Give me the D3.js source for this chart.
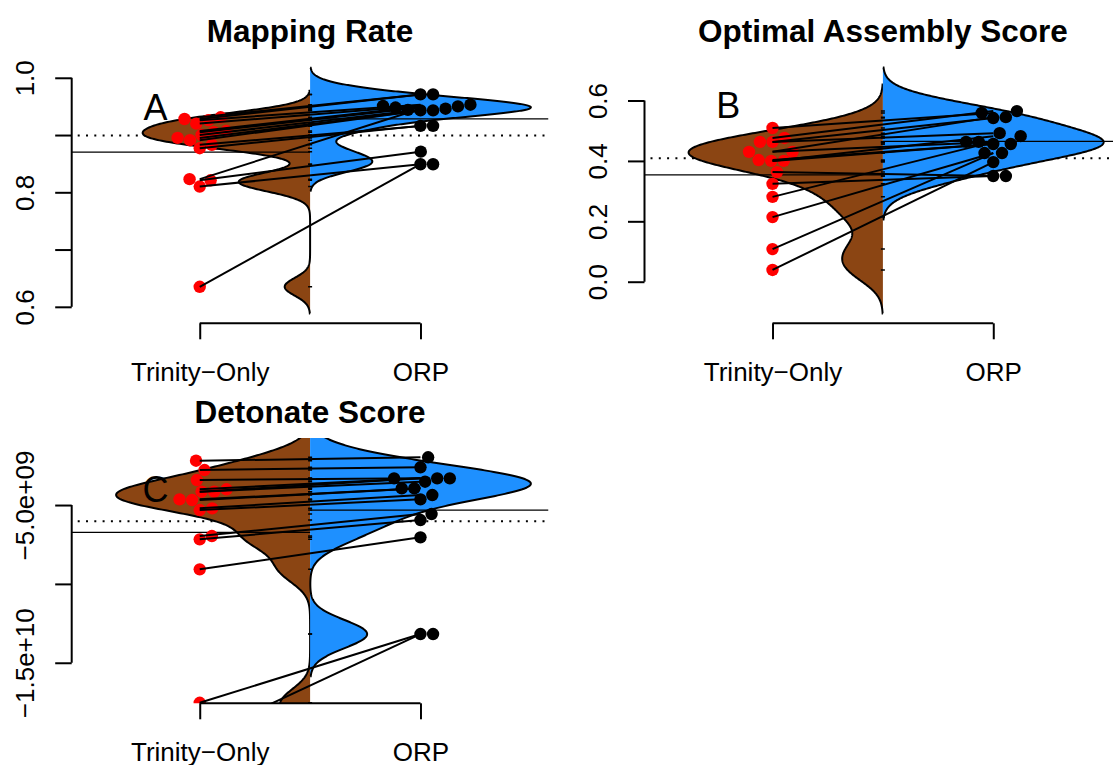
<!DOCTYPE html>
<html>
<head>
<meta charset="utf-8">
<title>Beanplots</title>
<script src="https://d3js.org/d3.v7.min.js"></script>
<style>
body { margin: 0; background: #fff; }
text { font-family: "Liberation Sans", Arial, Helvetica, sans-serif; }
</style>
</head>
<body>
<script>

var groups = ["Trinity\u2212Only", "ORP"];
var titles = ["Mapping Rate", "Optimal Assembly Score", "Detonate Score"];
var letters = ["A", "B", "C"];

// one sample per index: trinity[i] is joined to orp[i]
var trinityA = [0.931, 0.928, 0.926, 0.920, 0.907, 0.905, 0.900, 0.895, 0.891, 0.883, 0.877, 0.823, 0.821, 0.810, 0.635];
var orpA     = [0.971, 0.971, 0.953, 0.951, 0.950, 0.948, 0.944, 0.943, 0.943, 0.916, 0.916, 0.946, 0.871, 0.849, 0.849];

var trinityB = [0.509, 0.476, 0.463, 0.463, 0.430, 0.430, 0.403, 0.400, 0.400, 0.363, 0.324, 0.281, 0.214, 0.108, 0.039];
var orpB     = [0.559, 0.565, 0.542, 0.492, 0.545, 0.463, 0.456, 0.482, 0.456, 0.350, 0.350, 0.463, 0.426, 0.426, 0.396];

var trinityC = [-2.191e9, -2.781e9, -3.415e9, -4.004e9, -4.157e9, -4.157e9, -4.639e9, -4.683e9,
                -5.209e9, -5.317e9, -6.966e9, -7.175e9, -9.077e9, -17.537e9, -19.71e9];
var orpC     = [-1.975e9, -2.609e9, -3.307e9, -3.307e9, -3.307e9, -3.523e9, -3.941e9, -3.941e9,
                -4.366e9, -4.639e9, -5.571e9, -5.951e9, -7.048e9, -13.18e9, -13.18e9];

var ticksA = [0.6, 0.7, 0.8, 0.9, 1.0];
var tickLabelsA = ["0.6", "", "0.8", "", "1.0"];
var ticksB = [0, 0.2, 0.4, 0.6];
var tickLabelsB = ["0.0", "0.2", "0.4", "0.6"];
var ticksC = [-1.5e10, -1e10, -5e9];
var tickLabelsC = ["\u22121.5e+10", "", "\u22125.0e+09"];

var ylimA = [0.5712, 1.0363];
var ylimB = [-0.1377, 0.7441];
var ylimC = [-17.57e9, -0.75e9];

var bandwidths = [0.0155, 0.048, 0.89e9];
var letterY = [0.9488, 0.5848, -3.99e9];

var colors = ["#8B4513", "#1E90FF"];
var ptColors = ["#FF0000", "#000000"];
var plotW = 476.8;

var svg = d3.select("body").append("svg")
	.attr("width", 1113)
	.attr("height", 765)
	.style("background", "#fff");

var panels = [
	{trinity: trinityA, orp: orpA, ticks: ticksA, labels: tickLabelsA, ylim: ylimA, left: 71.7, top: 57, bottom: 323.3},
	{trinity: trinityB, orp: orpB, ticks: ticksB, labels: tickLabelsB, ylim: ylimB, left: 644.5, top: 57, bottom: 323.3},
	{trinity: trinityC, orp: orpC, ticks: ticksC, labels: tickLabelsC, ylim: ylimC, left: 71.7, top: 438, bottom: 703.3}
];

// gaussian density like R's density(), cut = 3
function kde(values, bw) {
	var lo = d3.min(values) - 3 * bw, hi = d3.max(values) + 3 * bw;
	return d3.range(512).map(function(k) {
		var v = lo + (hi - lo) * k / 511;
		var s = d3.sum(values, function(x) { var u = (v - x) / bw; return Math.exp(-0.5 * u * u); });
		return [v, s / (values.length * bw * Math.sqrt(2 * Math.PI))];
	});
}

// beeswarm "swarm" layout, ascending priority; ys in pixels, returns x offsets
function swarm(ys, size) {
	var order = d3.range(ys.length).sort(function(a, b) { return ys[b] - ys[a]; });
	var xs = [], placed = [];
	order.forEach(function(i) {
		var plus = [], minus = [];
		placed.forEach(function(j) {
			var dy = Math.abs(ys[i] - ys[j]);
			if (dy < size) {
				var dx = Math.sqrt(size * size - dy * dy);
				plus.push(xs[j] + dx);
				minus.push(xs[j] - dx);
			}
		});
		var cand = [0].concat(plus, minus);
		var best = null;
		cand.forEach(function(c) {
			var free = placed.every(function(j) {
				var dx = c - xs[j], dy = ys[i] - ys[j];
				return dx * dx + dy * dy >= size * size - 0.01;
			});
			if (free && (best === null || Math.abs(c) < Math.abs(best) - 1e-9)) best = c;
		});
		xs[i] = best;
		placed.push(i);
	});
	return xs;
}

panels.forEach(function(p, k) {
	var x = d3.scaleLinear().domain([0.42, 2.58]).range([p.left, p.left + plotW]);
	var y = d3.scaleLinear().domain(p.ylim).range([p.bottom, p.top]);
	var g = svg.append("g");

	svg.append("clipPath").attr("id", "clip" + k)
		.append("rect")
		.attr("x", p.left).attr("y", p.top)
		.attr("width", plotW).attr("height", p.bottom - p.top);
	var plot = g.append("g").attr("clip-path", "url(#clip" + k + ")");

	var sets = [p.trinity, p.orp];
	var overall = d3.mean(p.trinity.concat(p.orp));

	// overall average, dotted
	plot.append("line")
		.attr("x1", p.left + 6).attr("x2", p.left + plotW)
		.attr("y1", y(overall)).attr("y2", y(overall))
		.attr("stroke", "#000").attr("stroke-width", 2)
		.attr("stroke-dasharray", "2,6.3");

	// beans
	var dens = sets.map(function(s) { return kde(s, bandwidths[k]); });
	var maxD = d3.max(dens, function(d) { return d3.max(d, function(e) { return e[1]; }); });
	dens.forEach(function(d, side) {
		var sign = side === 0 ? -1 : 1;
		var pts = d.map(function(e) { return [x(1.5 + sign * e[1] / maxD), y(e[0])]; });
		var outline = [[x(1.5), y(d[0][0])]].concat(pts, [[x(1.5), y(d[d.length - 1][0])]]);
		plot.append("path")
			.attr("d", d3.line()(outline) + "Z")
			.attr("fill", colors[side]);
		plot.append("path")
			.attr("d", d3.line()(outline))
			.attr("fill", "none")
			.attr("stroke", "#000")
			.attr("stroke-width", 2);
	});

	// bean averages
	sets.forEach(function(s, side) {
		var m = d3.mean(s);
		plot.append("line")
			.attr("x1", side === 0 ? p.left : x(1.5))
			.attr("x2", side === 0 ? x(1.5) : p.left + plotW)
			.attr("y1", y(m)).attr("y2", y(m))
			.attr("stroke", "#000").attr("stroke-width", 1.3);
	});

	// small bean lines at the centre
	plot.selectAll(".bl")
		.data(p.trinity.concat(p.orp))
		.enter().append("line")
		.attr("x1", x(1.5) - 2).attr("x2", x(1.5) + 2)
		.attr("y1", function(d) { return y(d); })
		.attr("y2", function(d) { return y(d); })
		.attr("stroke", "#000").attr("stroke-width", 1.5);

	// panel letter
	plot.append("text")
		.attr("x", x(0.8)).attr("y", y(letterY[k]))
		.attr("dy", "0.36em")
		.attr("text-anchor", "middle")
		.attr("font-size", 36)
		.text(letters[k]);

	// points
	sets.forEach(function(s, side) {
		var ys = s.map(function(d) { return y(d); });
		var offs = swarm(ys, 12.6);
		plot.selectAll(".pt" + side)
			.data(s)
			.enter().append("circle")
			.attr("cx", function(d, i) { return x(side + 1) + offs[i]; })
			.attr("cy", function(d, i) { return ys[i]; })
			.attr("r", 6.2)
			.attr("fill", ptColors[side]);
	});

	// paired lines
	plot.selectAll(".pair")
		.data(p.trinity)
		.enter().append("line")
		.attr("x1", x(1)).attr("x2", x(2))
		.attr("y1", function(d) { return y(d); })
		.attr("y2", function(d, i) { return y(p.orp[i]); })
		.attr("stroke", "#000").attr("stroke-width", 2);

	// y axis
	var ya = g.append("g")
		.attr("transform", "translate(" + p.left + ",0)")
		.call(d3.axisLeft(y).tickValues(p.ticks)
			.tickFormat(function(d, i) { return p.labels[i]; })
			.tickSize(16.5));
	ya.attr("font-size", null).attr("font-family", null);
	ya.select(".domain").remove();
	ya.append("line")
		.attr("y1", y(d3.min(p.ticks))).attr("y2", y(d3.max(p.ticks)))
		.attr("stroke", "#000").attr("stroke-width", 2);
	ya.selectAll(".tick line").attr("stroke", "#000").attr("stroke-width", 2);
	ya.selectAll(".tick text")
		.attr("x", null).attr("dy", null)
		.attr("transform", "translate(-38,0) rotate(-90)")
		.attr("text-anchor", "middle")
		.attr("font-size", 26)
		.attr("fill", "#000");

	// x axis
	var xa = g.append("g")
		.attr("transform", "translate(0," + p.bottom + ")")
		.call(d3.axisBottom(x).tickValues([1, 2])
			.tickFormat(function(d, i) { return groups[i]; })
			.tickSize(16));
	xa.attr("font-size", null).attr("font-family", null);
	xa.select(".domain").remove();
	xa.append("line")
		.attr("x1", x(1)).attr("x2", x(2))
		.attr("stroke", "#000").attr("stroke-width", 2);
	xa.selectAll(".tick line").attr("stroke", "#000").attr("stroke-width", 2);
	xa.selectAll(".tick text")
		.attr("y", 58).attr("dy", null)
		.attr("font-size", 26)
		.attr("fill", "#000");

	// title
	g.append("text")
		.attr("x", x(1.5)).attr("y", p.top - 15)
		.attr("text-anchor", "middle")
		.attr("font-size", 31.5)
		.attr("font-weight", "bold")
		.text(titles[k]);
});

</script>
</body>
</html>
